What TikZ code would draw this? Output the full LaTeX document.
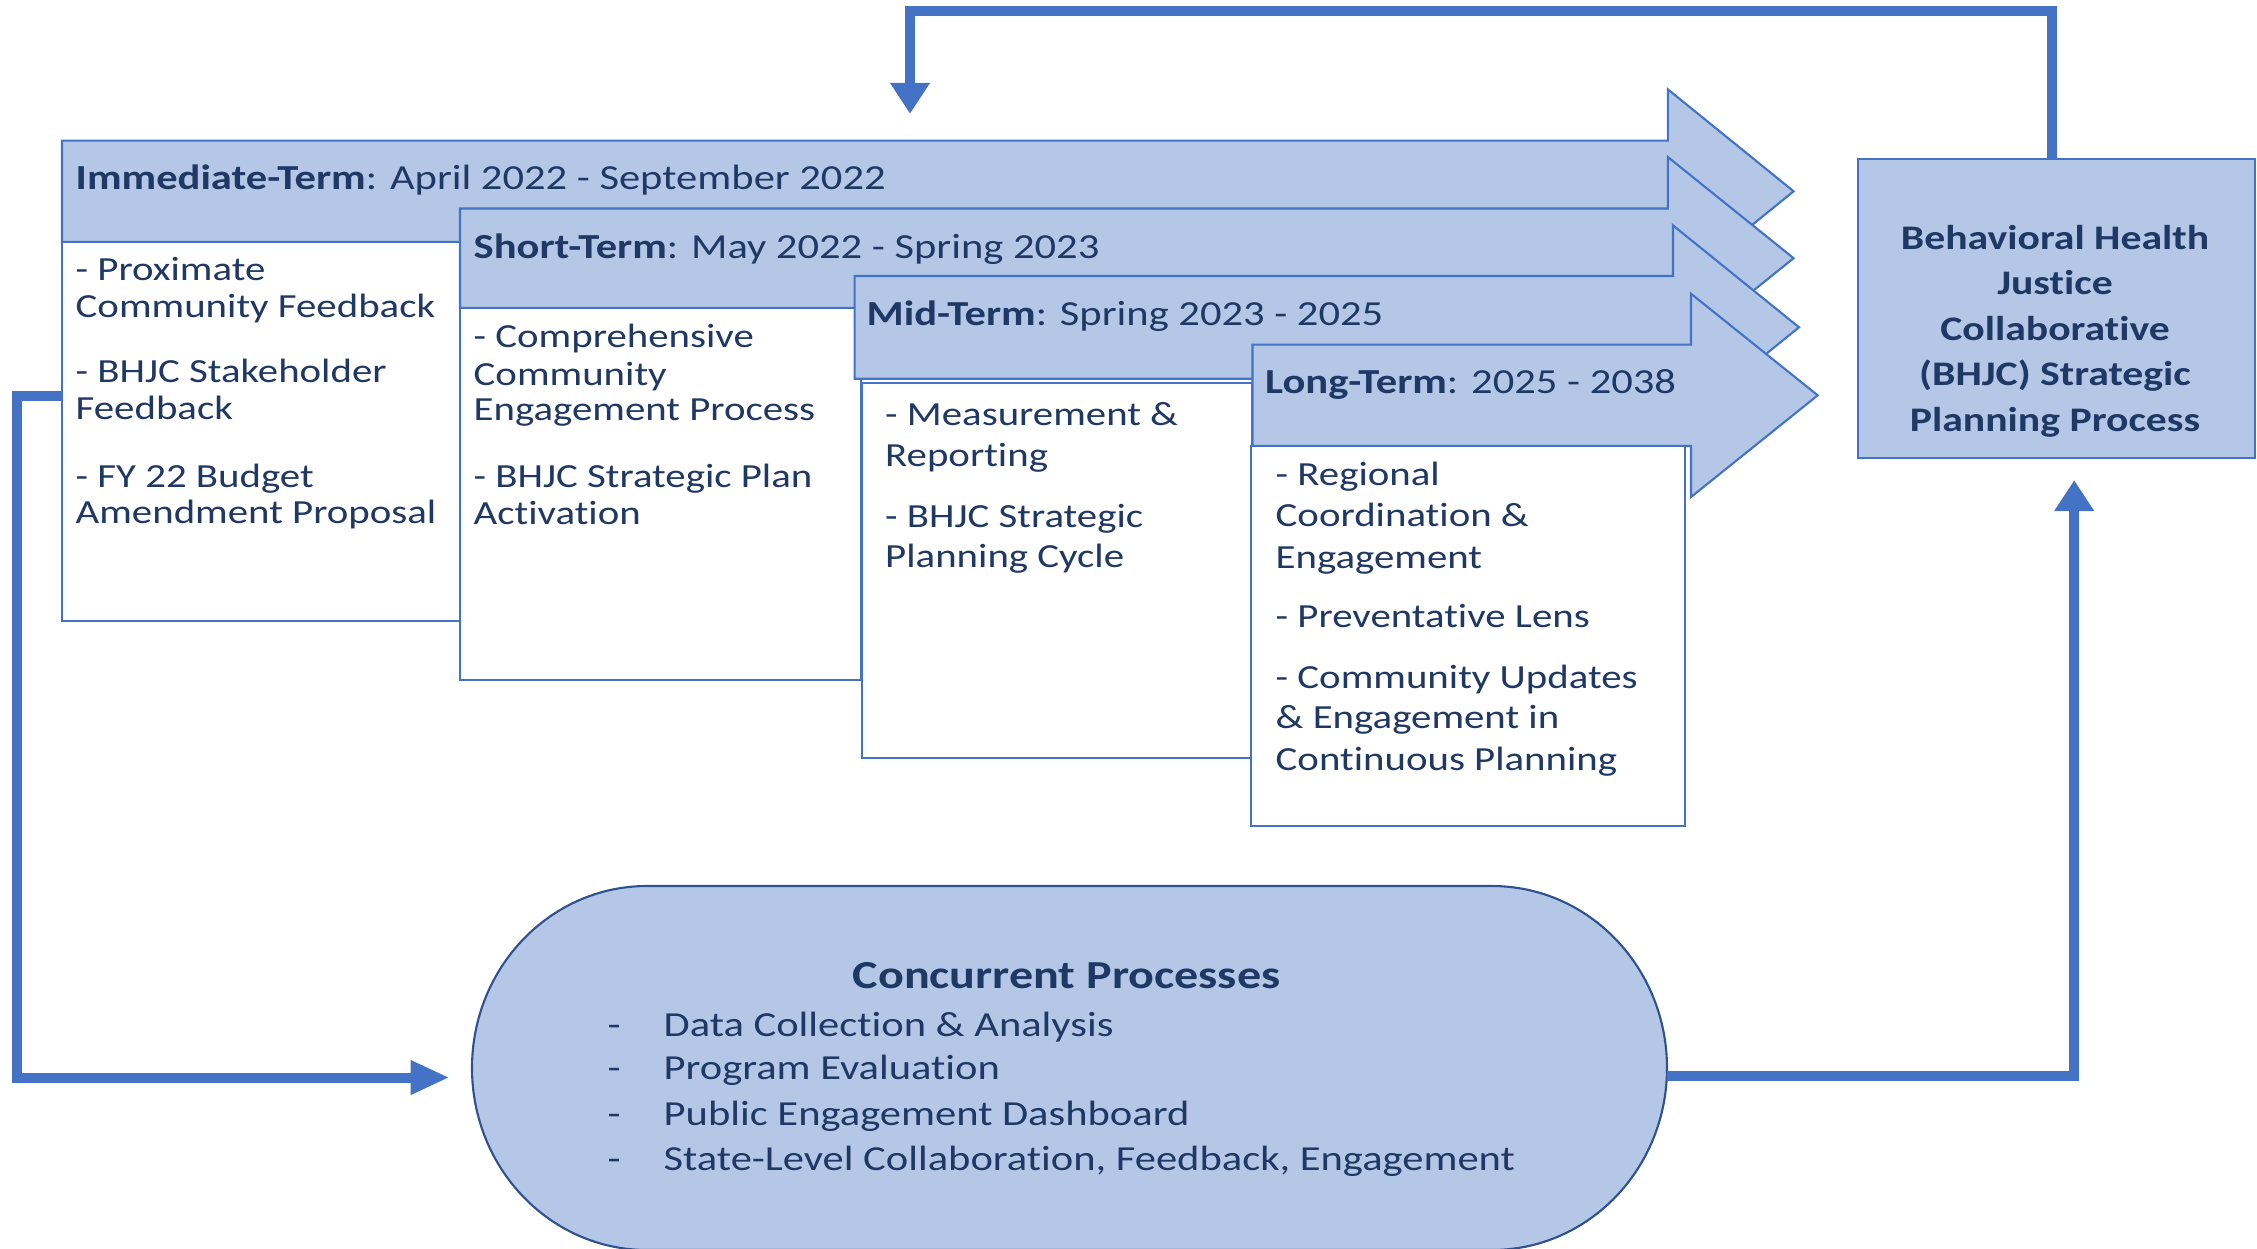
\documentclass[tikz,border=0pt]{standalone}
\usepackage{fontspec}
\setmainfont{Carlito}[FakeStretch=1.21,Ligatures=NoCommon]
\usetikzlibrary{arrows.meta,calc}
\definecolor{fillb}{HTML}{B4C7E7}
\definecolor{edgeb}{HTML}{4472C4}
\definecolor{ovedge}{HTML}{2F528F}
\definecolor{txt}{HTML}{1F3864}
\begin{document}
\begin{tikzpicture}[x=0.01cm,y=-0.01cm,
  arrowshape/.style={fill=fillb,draw=edgeb,line width=0.6pt,line join=miter},
  wbox/.style={rectangle,fill=white,draw=edgeb,line width=0.6pt,inner sep=0pt},
  bhbox/.style={rectangle,fill=fillb,draw=edgeb,line width=0.6pt,inner sep=0pt},
  ovalshape/.style={fill=fillb,draw=ovedge,line width=0.6pt},
  conn/.style={draw=edgeb,line width=0.1cm,line join=miter},
  vtip/.style={-{Triangle[length=0.31cm,width=0.38cm]}},
  htip/.style={-{Triangle[length=0.39cm,width=0.32cm]}},
  hdr/.style={text=txt,inner sep=0pt,anchor=base west,font=\fontsize{10}{12}\selectfont},
  body/.style={text=txt,inner sep=0pt,anchor=base west,font=\fontsize{9.6}{12}\selectfont},
  bh/.style={text=txt,inner sep=0pt,anchor=base,font=\bfseries\fontsize{9.8}{12}\selectfont},
  ovt/.style={text=txt,inner sep=0pt,font=\fontsize{10}{12}\selectfont}]
\useasboundingbox (0,0) rectangle (2257,1248);
\clip (0,0) rectangle (2257,1248);

% Immediate-Term
\path[arrowshape] (62,140.6) -- (1667.8,140.6) -- (1667.8,89.3) -- (1793.6,191.3) -- (1667.8,293.3) -- (1667.8,242) -- (62,242) -- cycle;
\node[wbox,minimum width=3.98cm,minimum height=3.79cm] (immbox) at (261,431.5) {};
% Short-Term
\path[arrowshape] (460,208.5) -- (1667.8,208.5) -- (1667.8,157) -- (1793.6,258.2) -- (1667.8,359.4) -- (1667.8,308) -- (460,308) -- cycle;
\node[wbox,minimum width=4.01cm,minimum height=3.72cm] (shortbox) at (660.5,494) {};
% Mid-Term
\path[arrowshape] (854.6,276) -- (1673,276) -- (1673,225.4) -- (1799,327.3) -- (1673,429.2) -- (1673,378.7) -- (854.6,378.7) -- cycle;
\node[wbox,minimum width=3.90cm,minimum height=3.747cm] (midbox) at (1057,570.35) {};
% Long-Term
\path[arrowshape] (1252.5,344.6) -- (1691,344.6) -- (1691,293.75) -- (1817.7,395.3) -- (1691,497) -- (1691,446) -- (1252.5,446) -- cycle;
\node[wbox,minimum width=4.34cm,minimum height=3.798cm] (longbox) at (1468,635.9) {};

% headers
\node[hdr] (immh) at (75,189.3) {\textbf{Immediate-Term}: April 2022 - September 2022};
\node[hdr] (shorth) at (473,258) {\textbf{Short-Term}: May 2022 - Spring 2023};
\node[hdr] (midh) at (866,325) {\textbf{Mid-Term}: Spring 2023 - 2025};
\node[hdr] (longh) at (1264.5,393) {\textbf{Long-Term}: 2025 - 2038};

% body texts
\foreach \t/\y [count=\i] in {{- Proximate}/280,{Community Feedback}/317,{- BHJC Stakeholder}/382,{Feedback}/419.5,{- FY 22 Budget}/487,{Amendment Proposal}/523}
  \node[body] (imm\i) at (75,\y) {\t};
\foreach \t/\y [count=\i] in {{- Comprehensive}/347.5,{Community}/385,{Engagement Process}/420.5,{- BHJC Strategic Plan}/487.5,{Activation}/524}
  \node[body] (short\i) at (473,\y) {\t};
\foreach \t/\y [count=\i] in {{- Measurement \&}/425,{Reporting}/466,{- BHJC Strategic}/527.5,{Planning Cycle}/567}
  \node[body] (mid\i) at (884.5,\y) {\t};
\foreach \t/\y [count=\i] in {{- Regional}/485.5,{Coordination \&}/526.5,{Engagement}/568,{- Preventative Lens}/627.5,{- Community Updates}/688,{\& Engagement in}/728.5,{Continuous Planning}/770}
  \node[body] (long\i) at (1275,\y) {\t};

% BHJC box
\node[bhbox,minimum width=3.968cm,minimum height=2.982cm] (bhjc) at (2056.2,308.5) {};
\foreach \t/\y [count=\i] in {{Behavioral Health}/249,{Justice}/294.5,{Collaborative}/340,{(BHJC) Strategic}/385.5,{Planning Process}/431}
  \node[bh] (bh\i) at (2055,\y) {\t};

% Concurrent processes oval
\path[ovalshape] (647,886) -- (1492,886) arc[start angle=-90,end angle=90,x radius=175,y radius=182] -- (647,1250) arc[start angle=90,end angle=270,x radius=175,y radius=182] -- cycle;
\node[ovt,anchor=base,font=\bfseries\fontsize{11.3}{13}\selectfont] (conc) at (1066.6,988) {Concurrent Processes};
\foreach \t/\y [count=\i] in {{Data Collection \& Analysis}/1036,{Program Evaluation}/1079.5,{Public Engagement Dashboard}/1125,{State-Level Collaboration, Feedback, Engagement}/1170.5}{
  \node[ovt,anchor=base west] (cd\i) at (607,\y) {-};
  \node[ovt,anchor=base west] (ci\i) at (663,\y) {\t};
}

% connectors
\coordinate (ovalE) at (1667,1075.7);
\coordinate (ovalIn) at (449.6,1077.5);
\coordinate (topIn) at (910,113.8);
\draw[conn,vtip] ($(bhjc.north)+(-4,0)$) -- ++(0,-146.9) -| (topIn);
\draw[conn,htip] ($(immbox.west)+(0,-36)$) -| (17,1077.5) -- (ovalIn);
\draw[conn,vtip] (ovalE) -| ($(bhjc.south)+(18,21.4)$);
\end{tikzpicture}
\end{document}
